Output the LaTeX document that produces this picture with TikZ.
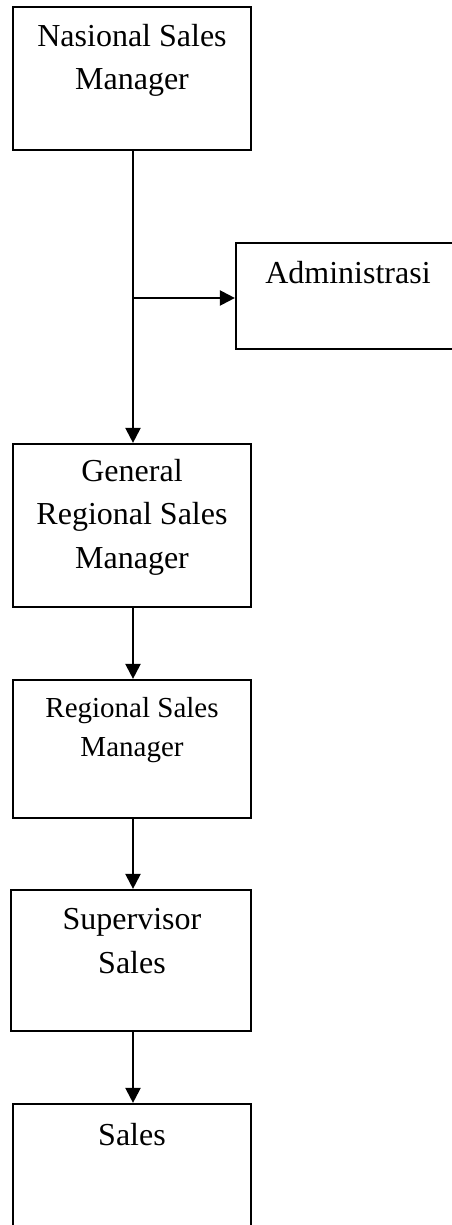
\documentclass[tikz,border=0pt]{standalone}
\usepackage{fontspec}
\setmainfont{Liberation Serif}
\usetikzlibrary{arrows.meta}
\tikzset{
  box/.style={draw=black, line width=2.2pt, fill=white, inner sep=0pt},
  txt/.style={align=center, anchor=base, inner sep=0pt, font=\fontsize{32}{43.5}\selectfont},
  smalltxt/.style={align=center, anchor=base, inner sep=0pt, font=\fontsize{29}{39}\selectfont},
  conn/.style={draw=black, line width=2.2pt, -{Triangle[length=15pt,width=15pt]}}
}
\begin{document}
\begin{tikzpicture}[x=1pt,y=-1pt]
\useasboundingbox (0,0) rectangle (451,1225);
\fill[white] (0,0) rectangle (451,1225);
% boxes
\node[box, minimum width=238pt, minimum height=143pt] (nsm) at (132,78.5) {};
\node[box, minimum width=230pt, minimum height=106pt] (adm) at (351,296) {};
\node[box, minimum width=238pt, minimum height=163pt] (grsm) at (132,525.5) {};
\node[box, minimum width=238pt, minimum height=138pt] (rsm) at (132,749) {};
\node[box, minimum width=240pt, minimum height=141pt] (ss) at (131,960.5) {};
\node[box, minimum width=238pt, minimum height=160pt] (sales) at (132,1184) {};
% texts (base anchor = baseline of the last line)
\node[txt] (tnsm) at (132,90) {Nasional Sales\\Manager};
\node[txt] (tadm) at (348,283) {Administrasi};
\node[txt] (tgrsm) at (132,568) {General\\Regional Sales\\Manager};
\node[smalltxt] (trsm) at (132,756) {Regional Sales\\Manager};
\node[txt] (tss) at (132,973) {Supervisor\\Sales};
\node[txt] (tsales) at (132,1145) {Sales};
% connectors
\coordinate (br) at (133,298);
\draw[conn] (nsm.south -| br) -- (grsm.north -| br);
\draw[conn] (br) -- (br -| adm.west);
\draw[conn] (grsm.south -| br) -- (rsm.north -| br);
\draw[conn] (rsm.south -| br) -- (ss.north -| br);
\draw[conn] (ss.south -| br) -- (sales.north -| br);
\end{tikzpicture}
\end{document}
